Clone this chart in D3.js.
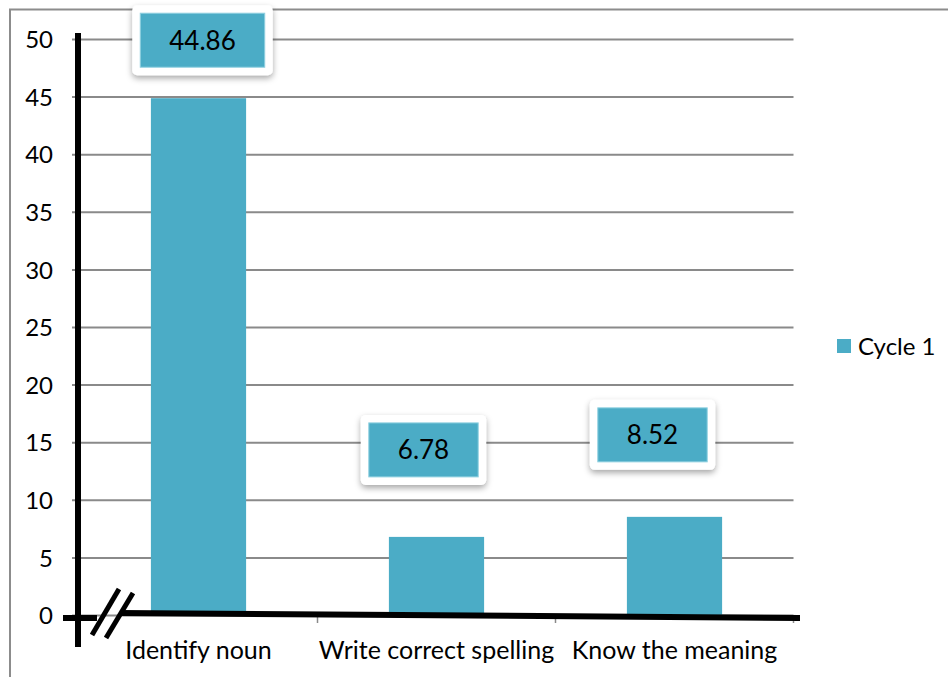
<!DOCTYPE html>
<html>
<head>
<meta charset="utf-8">
<script src="https://cdn.jsdelivr.net/npm/d3@7"></script>
<style>
  html, body { margin: 0; padding: 0; background: #fff; }
  svg { display: block; font-family: Lato, "Open Sans", sans-serif; }
</style>
</head>
<body>
<svg id="chart" width="948" height="677"></svg>
<script>
// Chart data
const categories = ["Identify noun", "Write correct spelling", "Know the meaning"];
const cycle1 = [44.86, 6.78, 8.52];
const seriesName = "Cycle 1";
const yTicks = [0, 5, 10, 15, 20, 25, 30, 35, 40, 45, 50];

// Callout placement relative to each bar top (dx, dy of the callout centre)
const calloutOffsets = [[4, -58], [-13, -87], [-22, -82]];

const teal = "#4BACC6";
const gridColor = "#8a8a8a";

const svg = d3.select("#chart");

// drop shadow for callouts
const defs = svg.append("defs");
const f = defs.append("filter").attr("id", "shadow")
  .attr("x", "-20%").attr("y", "-20%").attr("width", "140%").attr("height", "160%");
f.append("feDropShadow").attr("dx", 0).attr("dy", 3).attr("stdDeviation", 3)
  .attr("flood-color", "#000").attr("flood-opacity", 0.35);

// outer frame (top and left edges)
svg.append("path")
  .attr("d", "M10,677 L10,9.5 L948,9.5")
  .attr("fill", "none").attr("stroke", "#8c8c8c").attr("stroke-width", 2);

const plotLeft = 72, plotRight = 793.5;

const y = d3.scaleLinear().domain([0, 50]).range([615, 39]);
const x = d3.scaleBand().domain(categories)
  .range([79.5, 793.5]).paddingInner(0.6).paddingOuter(0.3);

// y axis with gridlines
const yAxis = d3.axisLeft(y).tickValues(yTicks)
  .tickSizeInner(-(plotRight - plotLeft)).tickSizeOuter(0).tickPadding(19);
const yg = svg.append("g").attr("transform", `translate(${plotLeft},0)`).call(yAxis);
yg.select(".domain").remove();
yg.selectAll(".tick line").attr("stroke", gridColor).attr("stroke-width", 2);
yg.selectAll(".tick text").attr("fill", "#000").attr("font-size", 24)
  .attr("font-family", "Lato, 'Open Sans', sans-serif").attr("dy", "0.36em");

// category axis
const xAxis = d3.axisBottom(x).tickSize(0).tickPadding(0);
const xg = svg.append("g").attr("transform", `translate(0,${y(0)})`).call(xAxis);
xg.select(".domain").remove();
xg.selectAll(".tick text").attr("fill", "#000").attr("font-size", 25)
  .attr("font-family", "Lato, 'Open Sans', sans-serif").attr("dy", 0).attr("y", 44);

// band boundary tick marks
const boundaries = categories.map((c, i) => x.range()[0] + x.step() * (i + 1));
svg.append("g").selectAll("line").data(boundaries).join("line")
  .attr("x1", d => d).attr("x2", d => d)
  .attr("y1", y(0)).attr("y2", y(0) + 8)
  .attr("stroke", gridColor).attr("stroke-width", 1.5);

// bars
svg.append("g").selectAll("rect").data(cycle1).join("rect")
  .attr("x", (d, i) => x(categories[i]))
  .attr("width", x.bandwidth())
  .attr("y", d => y(d))
  .attr("height", d => y(0) - y(d))
  .attr("fill", teal);

// hand-drawn axes with break marks
const ink = svg.append("g").attr("stroke", "#000").attr("fill", "none").attr("stroke-linecap", "butt");
ink.append("line").attr("x1", 78).attr("x2", 78).attr("y1", 33).attr("y2", 647).attr("stroke-width", 6);
ink.append("line").attr("x1", 63).attr("x2", 97).attr("y1", 618).attr("y2", 618).attr("stroke-width", 6);
ink.append("line").attr("x1", 120).attr("x2", 800).attr("y1", 613).attr("y2", 618).attr("stroke-width", 6);
ink.append("line").attr("x1", 92).attr("y1", 635).attr("x2", 119).attr("y2", 589).attr("stroke-width", 5);
ink.append("line").attr("x1", 106).attr("y1", 638).attr("x2", 133).attr("y2", 593).attr("stroke-width", 5);

// value callouts
const callouts = svg.append("g").selectAll("g").data(cycle1).join("g")
  .attr("transform", (d, i) => {
    const cx = x(categories[i]) + x.bandwidth() / 2 + calloutOffsets[i][0];
    const cy = y(d) + calloutOffsets[i][1];
    return `translate(${cx},${cy})`;
  });
callouts.each(function(d) {
  const g = d3.select(this);
  const t = g.append("text").text(d3.format(".2f")(d))
    .attr("text-anchor", "middle").attr("dy", "0.36em")
    .attr("font-size", 26).attr("fill", "#000");
  const w = t.node().getComputedTextLength() + 58;
  const h = 54;
  g.insert("rect", "text")
    .attr("x", -w / 2).attr("y", -h / 2).attr("width", w).attr("height", h)
    .attr("fill", teal).attr("stroke", "#8fd0e0").attr("stroke-width", 1);
  g.insert("rect", "rect")
    .attr("x", -w / 2 - 8).attr("y", -h / 2 - 8).attr("width", w + 16).attr("height", h + 16)
    .attr("rx", 5).attr("fill", "#fff").attr("filter", "url(#shadow)");
});

// legend
const legend = svg.append("g").attr("transform", "translate(837,339)");
legend.append("rect").attr("width", 14).attr("height", 14).attr("fill", teal);
legend.append("text").attr("x", 21).attr("y", 7).attr("dy", "0.36em")
  .attr("font-size", 24).attr("fill", "#000").text(seriesName);
</script>
</body>
</html>
